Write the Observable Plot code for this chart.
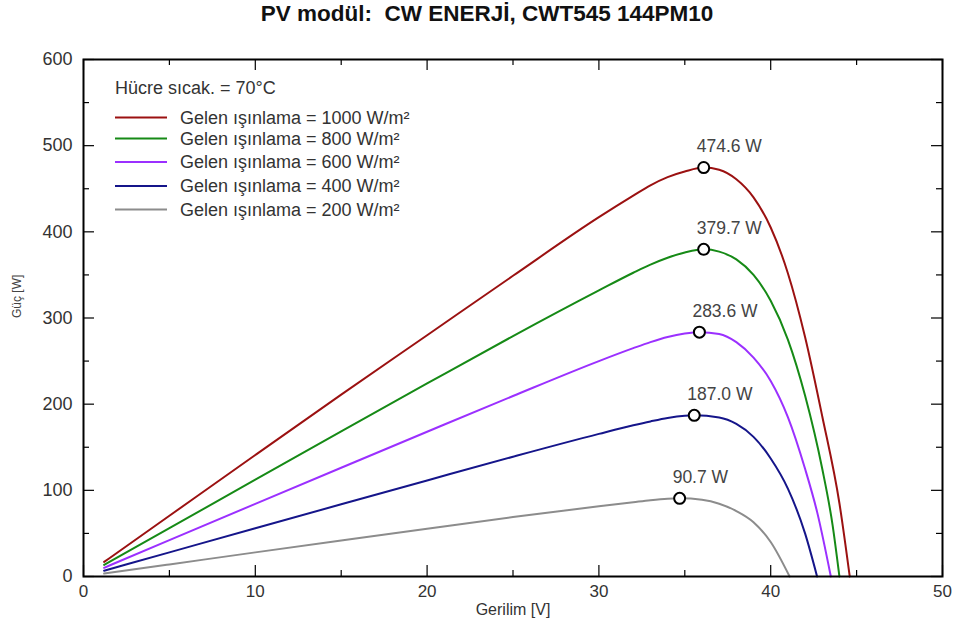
<!DOCTYPE html>
<html>
<head>
<meta charset="utf-8">
<script src="https://cdn.jsdelivr.net/npm/d3@7"></script>
<script src="https://cdn.jsdelivr.net/npm/@observablehq/plot@0.6"></script>
<style>
  body { margin: 0; background: #fff; font-family: "Liberation Sans", Arial, sans-serif; }
  #wrap { position: relative; width: 958px; height: 629px; overflow: hidden; }
  #title { position: absolute; left: 8px; top: 0; width: 958px; text-align: center; font-weight: bold; font-size: 22.5px; line-height: 28px; color: #111; }
  #chart { position: absolute; left: 0; top: 30px; }
  #legend { position: absolute; left: 0; top: 0; pointer-events: none; }
</style>
</head>
<body>
<div id="wrap">
  <div id="title">PV modül:&nbsp; CW ENERJİ, CWT545 144PM10</div>
  <div id="chart"></div>
  <svg id="legend" width="958" height="629"></svg>
</div>
<script>
// ---- data ----
const seriesNames = [
  "Gelen ışınlama = 1000 W/m²",
  "Gelen ışınlama = 800 W/m²",
  "Gelen ışınlama = 600 W/m²",
  "Gelen ışınlama = 400 W/m²",
  "Gelen ışınlama = 200 W/m²"
];
const seriesColors = ["#9b1111", "#168a16", "#9b30ff", "#15158a", "#8c8c8c"];
const cellTempText = "Hücre sıcak. = 70°C";

const v1000 = [1.2, 5, 10, 15, 20, 25, 30, 32, 33, 34, 35, 36.1, 37, 38, 39, 40, 41, 42, 43, 44, 44.6];
const p1000 = [16.9, 70.5, 141, 211, 280, 349, 417, 442, 454, 463.5, 470, 474.6, 472, 461, 440, 405, 352, 278, 186, 85, 0];

const v800 = [1.2, 5, 10, 15, 20, 25, 30, 32, 33, 34, 35, 36.1, 37, 38, 39, 40, 41, 42, 43, 43.6, 44.0];
const p800 = [13.5, 56, 112.5, 168.5, 224, 279, 332, 352.5, 362, 370, 376, 379.7, 377, 368, 350, 320, 275, 210, 125, 60, 0];

const v600 = [1.2, 5, 10, 15, 20, 25, 30, 32, 33, 34, 35, 35.85, 37, 38, 39, 40, 41, 42, 42.7, 43.5];
const p600 = [10.1, 42.2, 84.3, 126.2, 168, 209.5, 250, 265, 272, 278, 282, 283.6, 281.5, 272, 254, 227, 185, 125, 75, 0];

const v400 = [1.2, 5, 10, 15, 20, 25, 30, 32, 33, 34, 35, 35.55, 37, 38, 39, 40, 41, 42, 42.7];
const p400 = [6.7, 28, 56, 83.8, 111.5, 139, 165.5, 175.5, 180, 184, 186.5, 187, 184.5, 177, 162, 137, 102, 50, 0];

const v200 = [1.2, 5, 10, 15, 20, 25, 30, 32, 33, 34, 34.7, 36, 37, 38, 39, 40, 41.1];
const p200 = [3.4, 14, 28, 41.8, 55.5, 69, 81.5, 86.2, 88.5, 90.2, 90.7, 89, 84.5, 76, 63, 40, 0];

const peakV = [36.1, 36.1, 35.85, 35.55, 34.7];
const peakP = [474.6, 379.7, 283.6, 187.0, 90.7];

const xTicks = [0, 10, 20, 30, 40, 50];
const xMinor = [5, 15, 25, 35, 45];
const yTicks = [0, 100, 200, 300, 400, 500, 600];
const yMinor = [50, 150, 250, 350, 450, 550];
const xLabel = "Gerilim [V]";
const yLabel = "Güç [W]";

// ---- build tables ----
const vs = [v1000, v800, v600, v400, v200];
const ps = [p1000, p800, p600, p400, p200];
const curves = [];
seriesNames.forEach((s, i) => vs[i].forEach((v, j) => curves.push({series: s, v, p: ps[i][j]})));
const peaks = seriesNames.map((s, i) => ({series: s, v: peakV[i], p: peakP[i]}));

const W = 958, H = 599;
const mL = 83, mR = 16, mT = 29, mB = 53;
const innerW = W - mL - mR, innerH = H - mT - mB;
const txt = "#333";
const font = '"Liberation Sans", Arial, sans-serif';

const chart = Plot.plot({
  width: W, height: H,
  marginLeft: mL, marginRight: mR, marginTop: mT, marginBottom: mB,
  style: {fontFamily: font, background: "white", color: txt},
  x: {domain: [0, 50], label: null},
  y: {domain: [0, 600], label: null},
  color: {domain: seriesNames, range: seriesColors},
  marks: [
    Plot.axisX({ticks: xTicks, tickSize: 0, tickPadding: 8, fontSize: 17, fill: txt, label: null}),
    Plot.axisY({ticks: yTicks, tickSize: 0, tickPadding: 11, fontSize: 18, fill: txt, label: null}),
    // inward ticks on four sides
    Plot.tickX(xTicks, {x: d => d, insetTop: innerH - 11, stroke: "#000", strokeWidth: 1.2}),
    Plot.tickX(xMinor, {x: d => d, insetTop: innerH - 6, stroke: "#000", strokeWidth: 1.2}),
    Plot.tickX(xTicks, {x: d => d, insetBottom: innerH - 11, stroke: "#000", strokeWidth: 1.2}),
    Plot.tickX(xMinor, {x: d => d, insetBottom: innerH - 6, stroke: "#000", strokeWidth: 1.2}),
    Plot.tickY(yTicks, {y: d => d, insetRight: innerW - 11, stroke: "#000", strokeWidth: 1.2}),
    Plot.tickY(yMinor, {y: d => d, insetRight: innerW - 6, stroke: "#000", strokeWidth: 1.2}),
    Plot.tickY(yTicks, {y: d => d, insetLeft: innerW - 11, stroke: "#000", strokeWidth: 1.2}),
    Plot.tickY(yMinor, {y: d => d, insetLeft: innerW - 6, stroke: "#000", strokeWidth: 1.2}),
    Plot.line(curves, {x: "v", y: "p", z: "series", stroke: "series", strokeWidth: 2, curve: "monotone-x"}),
    Plot.dot(peaks, {x: "v", y: "p", r: 5.5, fill: "white", stroke: "#000", strokeWidth: 2}),
    Plot.text(peaks, {x: "v", y: "p", text: d => d.p.toFixed(1) + " W", textAnchor: "start", dx: -7, dy: -21, fontSize: 17.5, fill: "#444"}),
    Plot.frame({stroke: "#000", strokeWidth: 2}),
    Plot.text([xLabel], {frameAnchor: "bottom", dy: 38, fontSize: 16, fill: txt}),
    Plot.text([yLabel], {frameAnchor: "left", dx: -66, rotate: -90, fontSize: 12, fill: "#444"})
  ]
});
document.getElementById("chart").appendChild(chart);

// ---- legend (inside the plot area, top-left) ----
const leg = d3.select("#legend").style("font-family", font);
leg.append("text").attr("x", 115).attr("y", 88).attr("dy", "0.35em")
  .attr("font-size", 18).attr("fill", txt).text(cellTempText);
const rowY = [117.5, 138.5, 162, 186, 209.5];
seriesNames.forEach((s, i) => {
  leg.append("line").attr("x1", 115).attr("x2", 167).attr("y1", rowY[i]).attr("y2", rowY[i])
    .attr("stroke", seriesColors[i]).attr("stroke-width", 2);
  leg.append("text").attr("x", 180).attr("y", rowY[i]).attr("dy", "0.35em")
    .attr("font-size", 18).attr("fill", txt).text(s);
});
</script>
</body>
</html>
